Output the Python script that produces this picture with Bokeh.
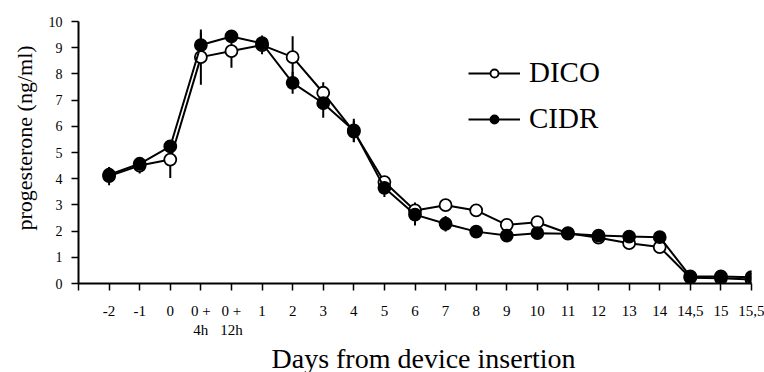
from bokeh.plotting import figure
from bokeh.models import Range1d, FixedTicker, Legend, LegendItem, Title
from bokeh.embed import file_html
from bokeh.resources import INLINE

# ---- data ----
days = ["-2", "-1", "0", "0 +\n4h", "0 +\n12h", "1", "2", "3", "4", "5", "6",
        "7", "8", "9", "10", "11", "12", "13", "14", "14,5", "15", "15,5"]
dico = [4.10, 4.50, 4.73, 8.64, 8.87, 9.10, 8.64, 7.28, 5.80, 3.87, 2.79,
        2.99, 2.79, 2.24, 2.34, 1.92, 1.75, 1.54, 1.39, 0.22, 0.20, 0.15]
dico_err = [0.35, 0.30, 0.70, 1.05, 0.64, 0.35, 0.80, 0.40, 0.40, 0.20, 0.30,
            0.20, 0.15, 0.20, 0.15, 0.10, 0.10, 0.10, 0.10, 0.05, 0.05, 0.05]
cidr = [4.15, 4.57, 5.23, 9.10, 9.43, 9.17, 7.66, 6.88, 5.84, 3.65, 2.63,
        2.28, 1.98, 1.83, 1.92, 1.90, 1.83, 1.79, 1.77, 0.27, 0.27, 0.24]
cidr_err = [0.30, 0.25, 0.20, 0.47, 0.20, 0.30, 0.42, 0.55, 0.45, 0.35, 0.42,
            0.30, 0.15, 0.25, 0.15, 0.10, 0.15, 0.10, 0.10, 0.05, 0.05, 0.10]
y_ticks = list(range(0, 11))
series_names = ["DICO", "CIDR"]
y_title = "progesterone (ng/ml)"
x_title = "Days from device insertion"

FONT = "'Liberation Serif', 'Times New Roman', serif"
x = list(range(len(days)))

p = figure(frame_width=673, frame_height=262,
           min_border_left=78, min_border_right=13,
           min_border_top=21, min_border_bottom=89,
           x_range=Range1d(-1, len(days) - 1), y_range=Range1d(0, 10),
           output_backend="svg", toolbar_location=None,
           background_fill_color="white", border_fill_color="white")
p.outline_line_color = None
p.grid.visible = False

# error bars
for vals, errs in ((dico, dico_err), (cidr, cidr_err)):
    p.segment(x0=x, x1=x,
              y0=[v - e for v, e in zip(vals, errs)],
              y1=[v + e for v, e in zip(vals, errs)],
              line_color="black", line_width=2)

dl = p.line(x, dico, line_color="black", line_width=2)
ds = p.scatter(x, dico, size=12, marker="circle", fill_color="white",
               line_color="black", line_width=1.8)
cl = p.line(x, cidr, line_color="black", line_width=2)
cs = p.scatter(x, cidr, size=12, marker="circle", fill_color="black",
               line_color="black", line_width=1.8)

# axes
xa = p.xaxis[0]
xa.ticker = FixedTicker(ticks=[-1] + x)
xa.major_label_overrides = {-1: ""} | {i: d for i, d in zip(x, days)}
ya = p.yaxis[0]
ya.ticker = FixedTicker(ticks=y_ticks)
for ax in (xa, ya):
    ax.axis_line_width = 2
    ax.axis_line_color = "black"
    ax.major_tick_line_width = 1.5
    ax.major_tick_line_color = "black"
    ax.major_tick_out = 7
    ax.major_tick_in = 0
    ax.minor_tick_line_color = None
    ax.major_label_text_font = FONT
    ax.major_label_text_font_style = "normal"
    ax.major_label_text_color = "black"
xa.major_label_text_font_size = "15px"
xa.major_label_standoff = 12
ya.major_label_text_font_size = "14px"
ya.major_label_standoff = 9

# axis titles
p.add_layout(Title(text=y_title, align="left", offset=53, standoff=15,
                   vertical_align="middle",
                   text_font=FONT, text_font_size="22px",
                   text_font_style="normal", text_color="black"), "left")
p.add_layout(Title(text=x_title, align="left", offset=193, standoff=0,
                   text_font=FONT, text_font_size="28px",
                   text_font_style="normal", text_color="black"), "below")

legend = Legend(items=[LegendItem(label=series_names[0], renderers=[dl, ds]),
                       LegendItem(label=series_names[1], renderers=[cl, cs])],
                location=(390, 148), padding=0, margin=0, spacing=13,
                glyph_width=52, glyph_height=20, label_height=20,
                label_standoff=9, label_text_font=FONT,
                label_text_font_style="normal",
                label_text_font_size="29px", label_text_color="black",
                border_line_color=None, background_fill_alpha=0)
p.add_layout(legend)

open("out.html", "w").write(file_html(p, INLINE))
